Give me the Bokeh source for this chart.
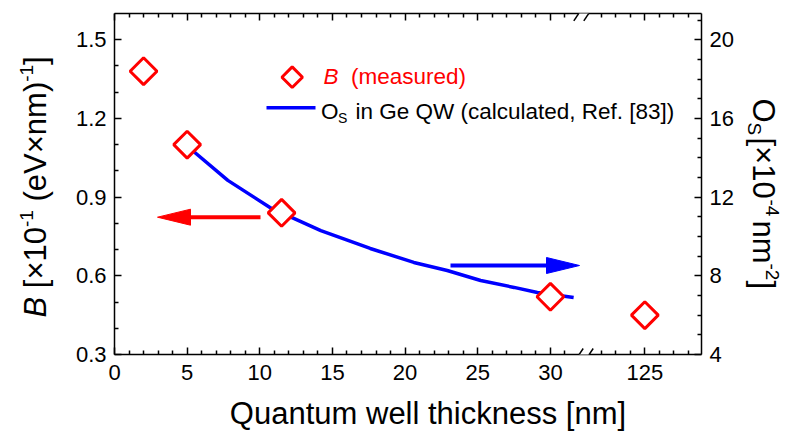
import numpy as np
from bokeh.plotting import figure
from bokeh.layouts import row, column
from bokeh.models import Range1d, LinearAxis, FixedTicker, Label, Arrow, PolyAnnotation
from bokeh.embed import file_html
from bokeh.resources import INLINE

# ---------------- data ----------------
thickness_meas = [2, 5, 11.5, 30, 125]
B_meas = [1.38, 1.10, 0.84, 0.52, 0.45]

thickness_calc = [5, 7.8, 10.7, 14.2, 17.6, 20.6, 22.9, 25.2, 27.5, 29.1, 31.6]
Os_calc = [14.6, 12.85, 11.47, 10.30, 9.39, 8.68, 8.27, 7.76, 7.41, 7.15, 6.90]

x_major = [0, 5, 10, 15, 20, 25, 30, 125]
x_minor = [v for v in range(0, 32) if v % 5] + [122, 123, 124, 126, 127, 128]
left_major = [0.3, 0.6, 0.9, 1.2, 1.5]
left_minor = [0.4, 0.5, 0.7, 0.8, 1.0, 1.1, 1.3, 1.4]
right_major = [4, 8, 12, 16, 20]
right_minor = [v for v in range(5, 22) if v % 4]

# broken x axis: values above BREAK_AT are shifted left
BREAK_AT = 32
BREAK_SHIFT = 88.5


def xd(v):
    return v if v <= BREAK_AT else v - BREAK_SHIFT


# ---------------- layout (page pixels) ----------------
W, H = 790, 434
LW, RW = 72, 53            # side title panels
MH = 391                   # height of the top row
FL, FT, FW, FH = 114, 13, 587, 341   # frame in page pixels
X_END = 40.4
Y0, Y1 = 0.3, 1.6
R0, R1 = 4.0, 4.0 + (Y1 - Y0) * 16 / 1.2

IMG_L, IMG_B = FL, FT + FH
SX = FW / X_END
SY = FH / (Y1 - Y0)


def px(xp):
    return (xp - IMG_L) / SX


def py(yp):
    return Y0 + (IMG_B - yp) / SY


FONT = "Liberation Sans"


def blank(width, height, x0, x1, y_bottom, y_top):
    f = figure(width=width, height=height, output_backend="svg", toolbar_location=None,
               x_range=Range1d(x0, x1), y_range=Range1d(y_bottom, y_top),
               min_border=0, x_axis_location=None, y_axis_location=None)
    f.grid.visible = False
    f.outline_line_color = None
    f.background_fill_color = "white"
    f.border_fill_color = "white"
    return f


MW = W - LW - RW
p = figure(width=MW, height=MH, output_backend="svg", toolbar_location=None,
           x_range=Range1d(0, X_END), y_range=Range1d(Y0, Y1),
           min_border_left=FL - LW, min_border_top=FT,
           min_border_right=LW + MW - (FL + FW), min_border_bottom=MH - (FT + FH),
           x_axis_location=None, y_axis_location=None)
p.extra_y_ranges = {"right": Range1d(R0, R1)}
p.grid.visible = False
p.outline_line_color = None
p.background_fill_color = "white"
p.border_fill_color = "white"


def style(ax, standoff, show_labels=True):
    ax.axis_line_width = 1.5
    ax.axis_line_color = "black"
    ax.major_tick_in = 7
    ax.major_tick_out = 0
    ax.minor_tick_in = 4
    ax.minor_tick_out = 0
    ax.major_tick_line_width = 1.5
    ax.minor_tick_line_width = 1.5
    ax.major_label_text_font = FONT
    ax.major_label_text_font_size = "22px" if show_labels else "0px"
    ax.major_label_text_color = "black"
    ax.major_label_standoff = standoff


xover = {xd(v): str(v) for v in x_major}

bottom = LinearAxis(ticker=FixedTicker(ticks=[xd(v) for v in x_major], minor_ticks=[xd(v) for v in x_minor]),
                    major_label_overrides=xover)
style(bottom, 10)
p.add_layout(bottom, "below")

top = LinearAxis(ticker=FixedTicker(ticks=[xd(v) for v in x_major], minor_ticks=[xd(v) for v in x_minor]),
                 major_label_overrides={xd(v): "" for v in x_major})
style(top, 0, show_labels=False)
p.add_layout(top, "above")

left = LinearAxis(ticker=FixedTicker(ticks=left_major, minor_ticks=left_minor),
                  major_label_overrides={v: f"{v:.1f}" for v in left_major})
style(left, 8)
p.add_layout(left, "left")

right = LinearAxis(y_range_name="right", ticker=FixedTicker(ticks=right_major, minor_ticks=right_minor),
                   major_label_overrides={v: str(v) for v in right_major})
style(right, 8)
p.add_layout(right, "right")

# ---------------- data marks ----------------
p.line(x=[xd(v) for v in thickness_calc], y=Os_calc, y_range_name="right",
       line_color="#0000FF", line_width=3.5)
p.scatter(x=[xd(v) for v in thickness_meas], y=B_meas, marker="square", angle=np.pi / 4,
          size=19, fill_color="white", line_color="#FF0000", line_width=3)

# ---------------- axis breaks ----------------
for yc, side in ((IMG_B + 1, "below"), (FT + 0.3, "above")):
    cover = PolyAnnotation(xs=[px(574.6), px(584.6), px(591.4), px(581.4)],
                           ys=[py(yc + 5), py(yc + 5), py(yc - 5), py(yc - 5)],
                           fill_color="white", fill_alpha=1, line_color=None, level="overlay")
    p.add_layout(cover, side)
    for xc in (578, 588):
        p.add_layout(Arrow(end=None, x_start=px(xc - 4.7), y_start=py(yc + 7),
                           x_end=px(xc + 4.7), y_end=py(yc - 7),
                           line_color="black", line_width=1.5, level="overlay"), side)

# ---------------- arrows ----------------
p.add_layout(Arrow(end=None, x_start=px(260), y_start=py(216.7), x_end=px(186), y_end=py(216.7),
                   line_color="#FF0000", line_width=4))
p.add_layout(PolyAnnotation(xs=[px(157), px(190), px(190)], ys=[py(216.7), py(208.7), py(224.7)],
                            fill_color="#FF0000", fill_alpha=1, line_color="#FF0000",
                            line_alpha=1, line_width=1))
p.add_layout(Arrow(end=None, x_start=px(450), y_start=py(265), x_end=px(550), y_end=py(265),
                   line_color="#0000FF", line_width=4))
p.add_layout(PolyAnnotation(xs=[px(579), px(546), px(546)], ys=[py(265), py(257), py(273)],
                            fill_color="#0000FF", fill_alpha=1, line_color="#0000FF",
                            line_alpha=1, line_width=1))

# ---------------- legend ----------------
cx, cy, r = 291.7, 76.7, 10.3
p.add_layout(PolyAnnotation(xs=[px(cx - r), px(cx), px(cx + r), px(cx)],
                            ys=[py(cy), py(cy - r), py(cy), py(cy + r)],
                            fill_color="white", fill_alpha=1, line_color="#FF0000",
                            line_alpha=1, line_width=3))
p.add_layout(Arrow(end=None, x_start=px(266), y_start=py(107.3), x_end=px(315), y_end=py(107.3),
                   line_color="#0000FF", line_width=3.5))

BASE_K = 0.27   # baseline correction (fraction of font size)


def lab(fig, text, xp, yp, size, color="black", style="normal", angle=0.0, align="left",
        conv=(lambda v: v, lambda v: v)):
    off = BASE_K * size
    if angle == 0:
        yp = yp - off
    elif angle > 0:
        xp = xp - off
    else:
        xp = xp + off
    fx, fy = conv
    fig.add_layout(Label(x=fx(xp), y=fy(yp), text=text, text_font=FONT, text_font_size=f"{size}px",
                         text_color=color, text_font_style=style, angle=angle,
                         text_align=align, text_baseline="alphabetic"))


MAIN = (px, py)
lab(p, "B", 323, 82.5, 22.5, "#FF0000", "italic", conv=MAIN)
lab(p, "(measured)", 350.5, 82.5, 22.5, "#FF0000", conv=MAIN)
lab(p, "O", 320.5, 116.7, 22.5, conv=MAIN)
lab(p, "S", 337.5, 121.5, 14, conv=MAIN)
lab(p, "in Ge QW (calculated, Ref. [83])", 355, 116.7, 22.5, conv=MAIN)

# ---------------- axis titles (separate panels, page pixel coords) ----------------
# side panels: their frames line up with the main frame (rows align plot frames)
fl = blank(LW, MH, 0, LW, FT + FH, FT)
A = np.pi / 2
bx = 43.5
lab(fl, "B", bx, 317, 31, style="italic", angle=A)
lab(fl, "[×10", bx, 287.7, 31, angle=A)
lab(fl, "-1", bx - 12, 226.5, 19, angle=A)
lab(fl, "(eV×nm)", bx, 201, 31, angle=A)
lab(fl, "-1", bx - 12, 81.3, 19, angle=A)
lab(fl, "]", bx, 64.4, 31, angle=A)

fr = blank(RW, MH, W - RW, W, FT + FH, FT)
A2 = -np.pi / 2
rx = 755
lab(fr, "O", rx, 98, 31, angle=A2)
lab(fr, "S", rx - 6, 122.1, 19, angle=A2)
lab(fr, "[×10", rx, 137, 31, angle=A2)
lab(fr, "-4", rx + 12, 199, 19, angle=A2)
lab(fr, "nm", rx, 220, 31, angle=A2)
lab(fr, "-2", rx + 12, 263, 19, angle=A2)
lab(fr, "]", rx, 280, 31, angle=A2)

fb = blank(W, H - MH, 0, W, H, MH)
lab(fb, "Quantum well thickness [nm]", 427.5, 421, 31, align="center")

layout = column(row(fl, p, fr, spacing=0), fb, spacing=0)
open("out.html", "w").write(file_html(layout, INLINE))
